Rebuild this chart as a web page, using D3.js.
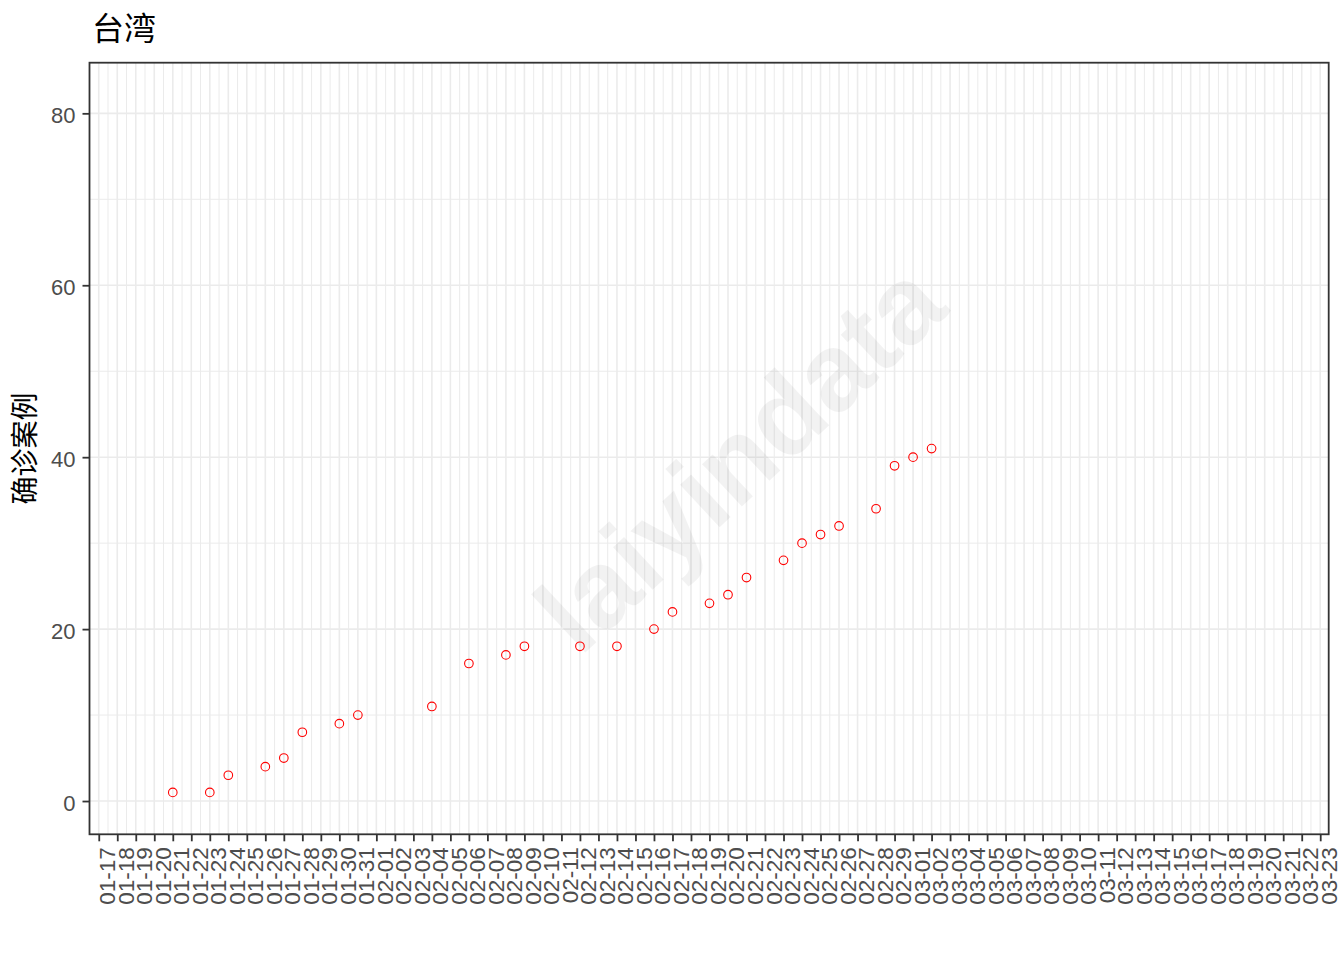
<!DOCTYPE html>
<html>
<head>
<meta charset="utf-8">
<script src="https://cdn.jsdelivr.net/npm/d3@7"></script>
<style>
  html, body { margin: 0; padding: 0; background: #ffffff; }
  svg { display: block; }
</style>
</head>
<body>
<svg id="chart" width="1344" height="960"></svg>
<script>
// ---- data ----
const title = "台湾";
const yTitle = "确诊案例";
const watermark = "laiyindata";
const axisStart = "2020-01-17";
const axisEnd = "2020-03-23";
const dates = ["2020-01-21","2020-01-23","2020-01-24","2020-01-26","2020-01-27","2020-01-28",
  "2020-01-30","2020-01-31","2020-02-04","2020-02-06","2020-02-08","2020-02-09","2020-02-12",
  "2020-02-14","2020-02-16","2020-02-17","2020-02-19","2020-02-20","2020-02-21","2020-02-23",
  "2020-02-24","2020-02-25","2020-02-26","2020-02-28","2020-02-29","2020-03-01","2020-03-02"];
const cases = [1,1,3,4,5,8,9,10,11,16,17,18,18,18,20,22,23,24,26,28,30,31,32,34,39,40,41];
const yTicks = [0,20,40,60,80];
const yMinor = [10,30,50,70];
const yDomain = [-3.87, 85.89];

// ---- layout ----
const svg = d3.select("#chart");
const P = {left: 89.5, right: 1328.7, top: 62.7, bottom: 834.3};
const parse = d3.utcParse("%Y-%m-%d");
const fmt = d3.utcFormat("%m-%d");
const d0 = parse(axisStart), d1 = parse(axisEnd);
const padDays = 0.47;
const x = d3.scaleUtc()
  .domain([d3.utcHour.offset(d0, -padDays*24), d3.utcHour.offset(d1, padDays*24)])
  .range([P.left, P.right]);
const y = d3.scaleLinear().domain(yDomain).range([P.bottom, P.top]);

const days = d3.utcDay.range(d0, d3.utcDay.offset(d1, 1));
const halfDays = d3.utcDay.range(d0, d1).map(d => d3.utcHour.offset(d, 12));

const g = svg.append("g");
// minor grid
g.selectAll("line.vminor").data(halfDays).join("line")
  .attr("x1", d => x(d)).attr("x2", d => x(d)).attr("y1", P.top).attr("y2", P.bottom)
  .attr("stroke", "#ebebeb").attr("stroke-width", 1);
g.selectAll("line.hminor").data(yMinor).join("line")
  .attr("y1", d => y(d)).attr("y2", d => y(d)).attr("x1", P.left).attr("x2", P.right)
  .attr("stroke", "#ebebeb").attr("stroke-width", 1);
// major grid
g.selectAll("line.vmajor").data(days).join("line")
  .attr("x1", d => x(d)).attr("x2", d => x(d)).attr("y1", P.top).attr("y2", P.bottom)
  .attr("stroke", "#ebebeb").attr("stroke-width", 1.6);
g.selectAll("line.hmajor").data(yTicks).join("line")
  .attr("y1", d => y(d)).attr("y2", d => y(d)).attr("x1", P.left).attr("x2", P.right)
  .attr("stroke", "#ebebeb").attr("stroke-width", 1.6);

// watermark
svg.append("text")
  .attr("transform", `translate(${(P.left+P.right)/2 + 30},${(P.top+P.bottom)/2 + 8}) rotate(-43)`)
  .attr("text-anchor", "middle").attr("dominant-baseline", "central")
  .attr("font-family", "Liberation Sans, Arial, sans-serif").attr("font-weight", "bold")
  .attr("font-size", 110).attr("fill", "#000").attr("fill-opacity", 0.05)
  .text(watermark);

// points
svg.append("g").selectAll("circle").data(dates.map((d,i) => ({d: parse(d), v: cases[i]}))).join("circle")
  .attr("cx", d => x(d.d)).attr("cy", d => y(d.v)).attr("r", 4.3)
  .attr("fill", "none").attr("stroke", "#ff0000").attr("stroke-width", 1.1);

// border
svg.append("rect").attr("x", P.left).attr("y", P.top)
  .attr("width", P.right - P.left).attr("height", P.bottom - P.top)
  .attr("fill", "none").attr("stroke", "#333333").attr("stroke-width", 1.8);

// x axis
const xAxis = d3.axisBottom(x).tickValues(days).tickFormat(fmt).tickSize(7).tickSizeOuter(0);
const gx = svg.append("g").attr("transform", `translate(0,${P.bottom})`).call(xAxis);
gx.select(".domain").remove();
gx.selectAll(".tick line").attr("stroke", "#333333").attr("stroke-width", 1.8);
gx.selectAll(".tick text")
  .attr("font-family", "Liberation Sans, Arial, sans-serif").attr("font-size", 22.5)
  .attr("fill", "#4d4d4d")
  .attr("dy", null).attr("y", null)
  .attr("text-anchor", "end")
  .attr("transform", "translate(16,13) rotate(-90)");

// y axis
const yAxis = d3.axisLeft(y).tickValues(yTicks).tickFormat(d3.format("d")).tickSize(7).tickSizeOuter(0);
const gy = svg.append("g").attr("transform", `translate(${P.left},0)`).call(yAxis);
gy.select(".domain").remove();
gy.selectAll(".tick line").attr("stroke", "#333333").attr("stroke-width", 1.8);
gy.selectAll(".tick text")
  .attr("font-family", "Liberation Sans, Arial, sans-serif").attr("font-size", 22)
  .attr("fill", "#4d4d4d").attr("x", -14).attr("dy", null).attr("y", 9.5);

// titles
svg.append("text").attr("x", 92).attr("y", 40)
  .attr("font-family", "Noto Sans CJK SC, sans-serif").attr("font-size", 32).attr("fill", "#000")
  .text(title);
svg.append("text")
  .attr("transform", `translate(35,${(P.top+P.bottom)/2}) rotate(-90)`)
  .attr("text-anchor", "middle")
  .attr("font-family", "Noto Sans CJK SC, sans-serif").attr("font-size", 28).attr("fill", "#000")
  .text(yTitle);
</script>
</body>
</html>
